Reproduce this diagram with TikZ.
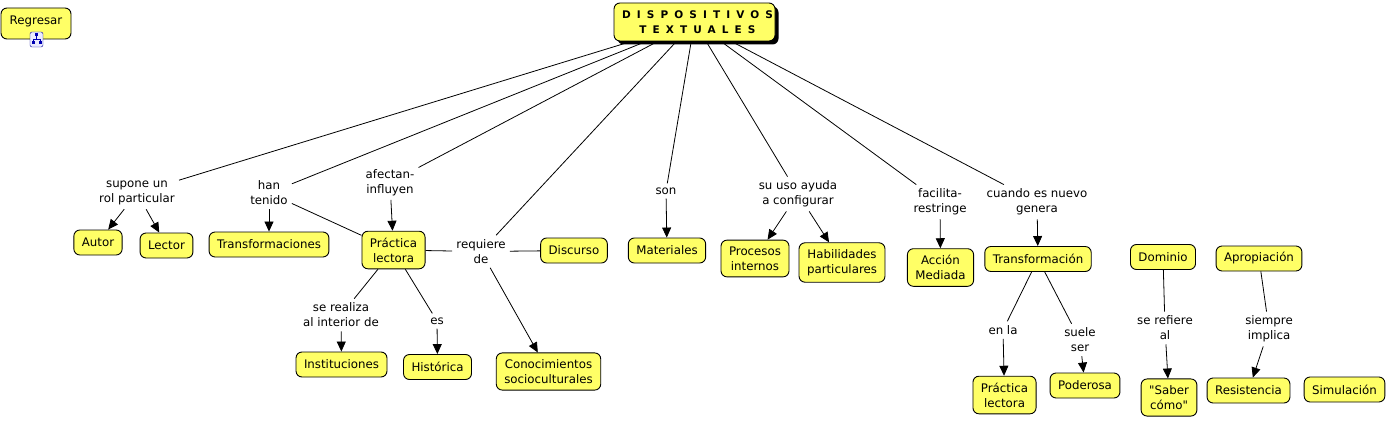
\documentclass[tikz,border=0pt]{standalone}
\usepackage{fontspec}
\setmainfont[Ligatures=TeXOff]{DejaVu Sans}
\newfontfamily\titlefont[LetterSpace=58]{DejaVu Sans}
\usetikzlibrary{arrows.meta, shadows}
\definecolor{conceptyellow}{RGB}{255,255,102}

\begin{document}
\begin{tikzpicture}[x=1pt, y=-1pt,
    concept/.style={draw, line width=0.9pt, fill=conceptyellow, rounded corners=6pt,
        align=center, inner xsep=8pt, inner ysep=6.5pt, minimum height=25pt,
        font=\fontsize{11.8}{15}\selectfont},
    linklabel/.style={align=center, inner sep=4pt, font=\fontsize{11.8}{15}\selectfont},
    link/.style={line width=0.8pt},
    arrowlink/.style={link, -{Triangle[length=10pt, width=9pt]}}]
    \useasboundingbox (0,0) rectangle (1388,420);

    % Back button
    \node[concept, minimum width=70pt, minimum height=31pt, text depth=7pt] (regresar) at (36,23.5) {Regresar};
    \node[draw=blue!60!black, fill=blue!8, rounded corners=2pt, minimum width=13pt,
        minimum height=15pt, inner sep=0pt] (regresaricon) at (36.5,39.5) {};
    \fill[blue!70!black] (35,33.5) rectangle (38,36.5);
    \fill[blue!70!black] (31.5,41.5) rectangle (34.5,44.5);
    \fill[blue!70!black] (38.5,41.5) rectangle (41.5,44.5);
    \draw[blue!70!black, line width=0.6pt] (36.5,36.5) -- (36.5,39) (33,39) -- (40,39) (33,39) -- (33,41.5) (40,39) -- (40,41.5);

    % Main concept
    \node[concept, minimum width=161pt, minimum height=38pt, inner sep=2pt,
        font=\titlefont\bfseries\fontsize{10.5}{14.5}\selectfont,
        drop shadow={shadow xshift=3.5pt, shadow yshift=-3.5pt, fill=black, opacity=1}]
        (dispositivos) at (694.5,22) {\hspace{6pt}DISPOSITIVOS\\\hspace{6pt}TEXTUALES};

    % Concepts
    \node[concept] (autor) at (98,242.5) {Autor};
    \node[concept] (lector) at (166.5,245.5) {Lector};
    \node[concept] (transformaciones) at (269,244.5) {Transformaciones};
    \node[concept] (practica) at (393.5,250) {Práctica\\lectora};
    \node[concept] (discurso) at (574,250.5) {Discurso};
    \node[concept] (instituciones) at (341.5,364.5) {Instituciones};
    \node[concept] (historica) at (437.5,367) {Histórica};
    \node[concept] (conocimientos) at (548.5,371.5) {Conocimientos\\socioculturales};
    \node[concept] (materiales) at (667,250.5) {Materiales};
    \node[concept] (procesos) at (755,258.5) {Procesos\\internos};
    \node[concept] (habilidades) at (842,262.5) {Habilidades\\particulares};
    \node[concept] (accion) at (940.5,267.5) {Acción\\Mediada};
    \node[concept] (transformacion) at (1038,259) {Transformación};
    \node[concept] (practicados) at (1004.5,395) {Práctica\\lectora};
    \node[concept] (poderosa) at (1085,385.5) {Poderosa};
    \node[concept] (dominio) at (1163,257) {Dominio};
    \node[concept] (saber) at (1169,397.5) {"Saber\\cómo"};
    \node[concept] (apropiacion) at (1259,258.5) {Apropiación};
    \node[concept] (resistencia) at (1248.5,390.5) {Resistencia};
    \node[concept] (simulacion) at (1344.5,389.5) {Simulación};

    % Link labels
    \node[linklabel] (supone) at (137,193) {supone un\\rol particular};
    \node[linklabel] (hantenido) at (269,193) {han\\tenido};
    \node[linklabel] (afectan) at (390,182.5) {afectan-\\influyen};
    \node[linklabel] (requiere) at (481,251.5) {requiere\\de};
    \node[linklabel] (serealiza) at (341,315) {se realiza\\al interior de};
    \node[linklabel] (es) at (437,321) {es};
    \node[linklabel] (son) at (666,191) {son};
    \node[linklabel] (suuso) at (798,194) {su uso ayuda\\a configurar};
    \node[linklabel] (facilita) at (940,202) {facilita-\\restringe};
    \node[linklabel] (cuando) at (1037,202) {cuando es nuevo\\genera};
    \node[linklabel] (enla) at (1003,330) {en la};
    \node[linklabel] (suele) at (1080,340) {suele\\ser};
    \node[linklabel] (serefiere) at (1165,328) {se refiere\\al};
    \node[linklabel] (siempre) at (1269,329) {siempre\\implica};

    % Connectors from the main concept
    \draw[link] (dispositivos) -- (supone);
    \draw[link] (dispositivos) -- (hantenido);
    \draw[link] (dispositivos) -- (afectan);
    \draw[link] (dispositivos) -- (requiere);
    \draw[link] (dispositivos) -- (son);
    \draw[link] (dispositivos) -- (suuso);
    \draw[link] (dispositivos) -- (facilita);
    \draw[link] (dispositivos) -- (cuando);

    % Left part
    \draw[arrowlink] (supone) -- (autor);
    \draw[arrowlink] (supone) -- (lector);
    \draw[arrowlink] (hantenido) -- (transformaciones);
    \draw[link] (hantenido) -- (practica);
    \draw[arrowlink] (afectan) -- (practica);
    \draw[link] (practica) -- (requiere);
    \draw[link] (requiere) -- (discurso);
    \draw[arrowlink] (requiere) -- (conocimientos);
    \draw[link] (practica) -- (serealiza);
    \draw[arrowlink] (serealiza) -- (instituciones);
    \draw[link] (practica) -- (es);
    \draw[arrowlink] (es) -- (historica);

    % Right part
    \draw[arrowlink] (son) -- (materiales);
    \draw[arrowlink] (suuso) -- (procesos);
    \draw[arrowlink] (suuso) -- (habilidades);
    \draw[arrowlink] (facilita) -- (accion);
    \draw[arrowlink] (cuando) -- (transformacion);
    \draw[link] (transformacion) -- (enla);
    \draw[arrowlink] (enla) -- (practicados);
    \draw[link] (transformacion) -- (suele);
    \draw[arrowlink] (suele) -- (poderosa);
    \draw[link] (dominio) -- (serefiere);
    \draw[arrowlink] (serefiere) -- (saber);
    \draw[link] (apropiacion) -- (siempre);
    \draw[arrowlink] (siempre) -- (resistencia);
\end{tikzpicture}
\end{document}
